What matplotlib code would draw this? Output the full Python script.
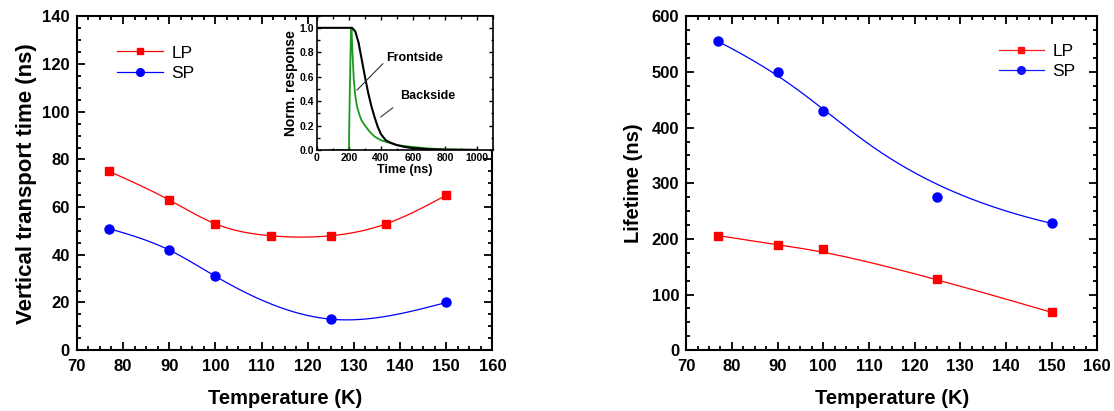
import numpy as np
import matplotlib
matplotlib.use("Agg")
import matplotlib.pyplot as plt
from matplotlib.ticker import MultipleLocator, FormatStrFormatter

plt.rcParams['font.family'] = ['Liberation Sans', 'DejaVu Sans']
plt.rcParams['font.weight'] = 'bold'

# left panel: vertical transport time (ns)
temp_lp_vt = [77, 90, 100, 112, 125, 137, 150]
lp_vt = [75, 63, 53, 48, 48, 53, 65]
temp_sp_vt = [77, 90, 100, 125, 150]
sp_vt = [51, 42, 31, 13, 20]

# right panel: lifetime (ns)
temp_lt = [77, 90, 100, 125, 150]
lp_lt = [206, 189, 181, 128, 68]
sp_lt = [555, 500, 430, 276, 228]

# inset: normalized response vs time (ns)
t_front = [0, 100, 200, 220, 240, 260, 280, 300, 320, 340, 360, 380, 400, 430, 460, 500, 550, 600, 700, 800, 900, 1000]
r_front = [1.0, 1.0, 1.0, 1.0, 0.97, 0.88, 0.74, 0.60, 0.47, 0.36, 0.27, 0.19, 0.13, 0.08, 0.06, 0.04, 0.025, 0.015, 0.007, 0.003, 0.002, 0.001]
t_back = [80, 150, 195, 200, 205, 212, 216, 222, 230, 240, 250, 265, 280, 300, 330, 360, 400, 450, 500, 600, 700, 800, 900, 1000]
r_back = [0.0, 0.0, 0.0, 0.02, 0.45, 0.93, 1.0, 0.80, 0.58, 0.44, 0.36, 0.29, 0.24, 0.20, 0.15, 0.11, 0.08, 0.06, 0.04, 0.025, 0.012, 0.006, 0.003, 0.001]


def natural_spline(x, y, n=200):
    x = np.asarray(x, float)
    y = np.asarray(y, float)
    k = len(x)
    h = np.diff(x)
    A = np.zeros((k, k))
    b = np.zeros(k)
    A[0, 0] = A[-1, -1] = 1
    for i in range(1, k - 1):
        A[i, i - 1] = h[i - 1]
        A[i, i] = 2 * (h[i - 1] + h[i])
        A[i, i + 1] = h[i]
        b[i] = 6 * ((y[i + 1] - y[i]) / h[i] - (y[i] - y[i - 1]) / h[i - 1])
    m = np.linalg.solve(A, b)
    xs = np.linspace(x[0], x[-1], n)
    j = np.clip(np.searchsorted(x, xs) - 1, 0, k - 2)
    t0 = x[j + 1] - xs
    t1 = xs - x[j]
    hj = h[j]
    ys = (m[j] * t0**3 + m[j + 1] * t1**3) / (6 * hj) \
        + (y[j] / hj - m[j] * hj / 6) * t0 + (y[j + 1] / hj - m[j + 1] * hj / 6) * t1
    return xs, ys


def bspline(x, y, n=300, deg=3):
    # clamped B-spline using the data points as control points (Origin style)
    P = np.column_stack([x, y]).astype(float)
    k = len(P)
    inner = np.arange(1, k - deg) / (k - deg)
    knots = np.concatenate([np.zeros(deg + 1), inner, np.ones(deg + 1)])
    u = np.linspace(0, 1 - 1e-9, n)
    N = np.zeros((n, len(knots) - 1))
    for i in range(len(knots) - 1):
        N[:, i] = (u >= knots[i]) & (u < knots[i + 1])
    for d in range(1, deg + 1):
        Nn = np.zeros((n, len(knots) - 1 - d))
        for i in range(len(knots) - 1 - d):
            a = knots[i + d] - knots[i]
            c = knots[i + d + 1] - knots[i + 1]
            t1 = (u - knots[i]) / a * N[:, i] if a > 0 else 0
            t2 = (knots[i + d + 1] - u) / c * N[:, i + 1] if c > 0 else 0
            Nn[:, i] = t1 + t2
        N = Nn
    C = N @ P
    C = np.vstack([C, P[-1]])
    return C[:, 0], C[:, 1]


def style_axes(ax):
    for s in ax.spines.values():
        s.set_linewidth(1.5)
    ax.tick_params(which='both', direction='in', top=True, right=True, width=1.3)
    ax.tick_params(which='major', length=6, labelsize=12)
    ax.tick_params(which='minor', length=3)
    ax.tick_params(axis='x', which='major', pad=6)
    ax.tick_params(axis='y', which='major', pad=5)
    ax.xaxis.set_major_locator(MultipleLocator(10))
    ax.xaxis.set_minor_locator(MultipleLocator(2.5))
    ax.set_xlim(70, 160)
    ax.set_xlabel('Temperature (K)', fontsize=14.5, fontweight='bold', labelpad=11)


fig = plt.figure(figsize=(11.14, 4.11), dpi=100)
ax1 = fig.add_axes([0.069, 0.148, 0.373, 0.812])
ax2 = fig.add_axes([0.616, 0.148, 0.369, 0.812])

red = '#ff0000'
blue = '#0000ff'

# left panel
xs, ys = natural_spline(temp_lp_vt, lp_vt)
ax1.plot(xs, ys, color=red, lw=0.9)
ax1.plot(temp_lp_vt, lp_vt, 's', color=red, ms=5.5)
xs, ys = natural_spline(temp_sp_vt, sp_vt)
ax1.plot(xs, ys, color=blue, lw=0.9)
ax1.plot(temp_sp_vt, sp_vt, 'o', color=blue, ms=6.5)
ax1.plot([], [], 's-', color=red, ms=5, lw=0.9, label='LP')
ax1.plot([], [], 'o-', color=blue, ms=5.5, lw=0.9, label='SP')
ax1.legend(loc='upper left', bbox_to_anchor=(0.06, 0.96), frameon=False,
           prop={'size': 12.5, 'weight': 'normal'}, handlelength=2.6, handletextpad=0.5,
           labelspacing=0.3)
style_axes(ax1)
ax1.set_ylim(0, 140)
ax1.yaxis.set_major_locator(MultipleLocator(20))
ax1.yaxis.set_minor_locator(MultipleLocator(5))
ax1.set_ylabel('Vertical transport time (ns)', fontsize=16, fontweight='bold', labelpad=4)

# right panel
xs, ys = bspline(temp_lt, sp_lt)
ax2.plot(xs, ys, color=blue, lw=0.9)
ax2.plot(temp_lt, sp_lt, 'o', color=blue, ms=6.5)
xs, ys = bspline(temp_lt, lp_lt)
ax2.plot(xs, ys, color=red, lw=0.9)
ax2.plot(temp_lt, lp_lt, 's', color=red, ms=5.5)
ax2.plot([], [], 's-', color=red, ms=5, lw=0.9, alpha=0.9, label='LP')
ax2.plot([], [], 'o-', color=blue, ms=5.5, lw=0.9, alpha=0.9, label='SP')
ax2.legend(loc='upper right', bbox_to_anchor=(0.985, 0.965), frameon=False,
           prop={'size': 12.5, 'weight': 'normal'}, handlelength=2.6, handletextpad=0.5,
           labelspacing=0.3)
style_axes(ax2)
ax2.set_ylim(0, 600)
ax2.yaxis.set_major_locator(MultipleLocator(100))
ax2.yaxis.set_minor_locator(MultipleLocator(25))
ax2.set_ylabel('Lifetime (ns)', fontsize=14.5, fontweight='bold', labelpad=6)

# inset
axi = fig.add_axes([0.2845, 0.635, 0.158, 0.327])
axi.plot(t_back, r_back, color='#1a9a1a', lw=1.3)
axi.plot(t_front, r_front, color='black', lw=1.5)
axi.set_xlim(0, 1100)
axi.set_ylim(0, 1.1)
axi.set_xticks([0, 200, 400, 600, 800, 1000])
axi.xaxis.set_minor_locator(MultipleLocator(100))
axi.yaxis.set_major_locator(MultipleLocator(0.2))
axi.yaxis.set_minor_locator(MultipleLocator(0.1))
axi.yaxis.set_major_formatter(FormatStrFormatter('%.1f'))
axi.tick_params(which='both', direction='in', top=True, right=True, width=1.0, labelsize=7.5, pad=2)
axi.tick_params(which='major', length=3)
axi.tick_params(which='minor', length=1.8)
for s in axi.spines.values():
    s.set_linewidth(1.2)
axi.set_xlabel('Time (ns)', fontsize=9, fontweight='bold', labelpad=1)
axi.set_ylabel('Norm. response', fontsize=10, fontweight='bold', labelpad=1)
axi.annotate('Frontside', xy=(250, 0.49), xytext=(430, 0.75), fontsize=9, fontweight='bold',
             va='center', ha='left',
             arrowprops=dict(arrowstyle='-', color='#333333', lw=0.8, shrinkA=0, shrinkB=0,
                             relpos=(0.0, 0.3)))
axi.annotate('Backside', xy=(398, 0.27), xytext=(520, 0.44), fontsize=9, fontweight='bold',
             va='center', ha='left',
             arrowprops=dict(arrowstyle='-', color='#333333', lw=0.8, shrinkA=4, shrinkB=0,
                             relpos=(0.0, 0.0)))

fig.savefig('out.png', dpi=100)
